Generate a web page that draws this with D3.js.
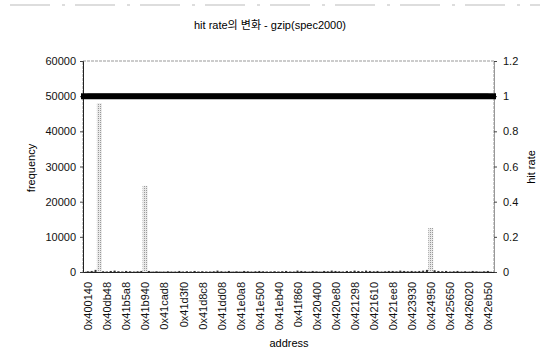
<!DOCTYPE html>
<html>
<head>
<meta charset="utf-8">
<script src="https://cdn.jsdelivr.net/npm/d3@7"></script>
<style>
  body { margin: 0; background: #fff; }
  svg { font-family: "Liberation Sans", Arial, "Noto Sans CJK KR", sans-serif; }
</style>
</head>
<body>
<div id="container"></div>
<script>
/* DATA */
const tickLabels = [
  "0x400140", "0x40db48", "0x41b5a8", "0x41b940", "0x41cad8", "0x41d3f0",
  "0x41d8c8", "0x41dd08", "0x41e0a8", "0x41e500", "0x41eb40", "0x41f860",
  "0x420400", "0x420e80", "0x421298", "0x421610", "0x421ee8", "0x423930",
  "0x424950", "0x425650", "0x426020", "0x42eb50",
];
// 5 samples per labelled interval (sample i sits at i/5 of the way along)
const frequency = [
  200, 300, 600, 48000, 200,  100, 300, 400, 200, 100,
  300, 200, 100, 200, 300,    24500, 300, 100, 200, 100,
  100, 200, 100, 100, 300,    100, 200, 100, 300, 100,
  200, 100, 100, 200, 400,    200, 100, 300, 100, 200,
  100, 300, 200, 100, 200,    300, 200, 100, 100, 200,
  100, 200, 300, 100, 100,    400, 300, 200, 100, 300,
  200, 100, 300, 200, 400,    300, 200, 100, 300, 200,
  400, 300, 200, 400, 300,    200, 300, 100, 200, 300,
  300, 200, 400, 300, 200,    300, 200, 300, 400, 600,
  12500, 500, 300, 200, 300,  100, 200, 300, 100, 200,
  100, 300, 200, 100, 200,    300,
];
const hitRate = [
  1, 1, 1, 1, 1, 1, 1, 1, 1, 1, 1, 1, 1, 1, 1, 1, 1, 1, 1, 1, 1,
  1, 1, 1, 1, 1, 1, 1, 1, 1, 1, 1, 1, 1, 1, 1, 1, 1, 1, 1, 1, 1,
  1, 1, 1, 1, 1, 1, 1, 1, 1, 1, 1, 1, 1, 1, 1, 1, 1, 1, 1, 1, 1,
  1, 1, 1, 1, 1, 1, 1, 1, 1, 1, 1, 1, 1, 1, 1, 1, 1, 1, 1, 1, 1,
  1, 1, 1, 1, 1, 1, 1, 1, 1, 1, 1, 1, 1, 1, 1, 1, 1, 1, 1, 1, 1,
  1,
];
const freqTicks = [0, 10000, 20000, 30000, 40000, 50000, 60000];
const rateTicks = [0, 0.2, 0.4, 0.6, 0.8, 1, 1.2];
const samplesPerTick = 5;

/* CONSTANTS */
const width = 547;
const height = 360;
const plot = { left: 83, right: 494, top: 61, bottom: 272 };

const svg = d3
  .select("#container")
  .append("svg")
  .attr("width", width)
  .attr("height", height);

// dotted grey fill for the bars
const pat = svg
  .append("defs")
  .append("pattern")
  .attr("id", "dots")
  .attr("width", 2)
  .attr("height", 2)
  .attr("patternUnits", "userSpaceOnUse");
pat.append("rect").attr("width", 2).attr("height", 2).attr("fill", "#e8e8e8");
pat.append("rect").attr("width", 1).attr("height", 1).attr("fill", "#999");

/* SCALES */
const xScale = d3
  .scaleLinear()
  .domain([-0.26, tickLabels.length - 1 + 0.32])
  .range([plot.left, plot.right]);
const yFreq = d3.scaleLinear().domain([0, 60000]).range([plot.bottom, plot.top]);
const yRate = d3.scaleLinear().domain([0, 1.2]).range([plot.bottom, plot.top]);
const xPos = (i) => xScale(i / samplesPerTick);

// scan artifact line at the top
svg
  .append("line")
  .attr("x1", 10).attr("x2", 540)
  .attr("y1", 5).attr("y2", 5)
  .attr("stroke", "#bbb")
  .attr("stroke-dasharray", "40,12,3,10");

// TITLE
svg
  .append("text")
  .attr("x", 270)
  .attr("y", 29)
  .attr("text-anchor", "middle")
  .style("font-size", "11px")
  .text("hit rate의 변화 - gzip(spec2000)");

// FRAME
svg
  .append("rect")
  .attr("x", plot.left)
  .attr("y", plot.top)
  .attr("width", plot.right - plot.left)
  .attr("height", plot.bottom - plot.top)
  .attr("fill", "none")
  .attr("stroke", "#999")
  .attr("stroke-dasharray", "3,1");

// BARS
svg
  .selectAll(".bar")
  .data(frequency)
  .join("rect")
  .attr("class", "bar")
  .attr("x", (d, i) => xPos(i) - (d > 10000 ? 2.5 : 1))
  .attr("width", (d) => (d > 10000 ? 5 : 2))
  .attr("y", (d) => yFreq(d))
  .attr("height", (d) => plot.bottom - yFreq(d))
  .attr("fill", (d) => (d > 10000 ? "url(#dots)" : "#333"));

// AXES
const left = svg
  .append("g")
  .attr("transform", `translate(${plot.left},0)`)
  .call(d3.axisLeft(yFreq).tickValues(freqTicks).tickSize(3).tickFormat(d3.format("d")));
const right = svg
  .append("g")
  .attr("transform", `translate(${plot.right},0)`)
  .call(d3.axisRight(yRate).tickValues(rateTicks).tickSize(3).tickFormat((d) => String(+d.toFixed(1))));
const bottom = svg
  .append("g")
  .attr("transform", `translate(0,${plot.bottom})`)
  .call(
    d3.axisBottom(xScale)
      .tickValues(d3.range(tickLabels.length))
      .tickSize(0)
      .tickFormat((d) => tickLabels[d])
  );
bottom.selectAll("text")
  .attr("transform", "rotate(-90)")
  .attr("text-anchor", "end")
  .attr("x", -10)
  .attr("y", 0)
  .attr("dy", "0.35em");
[left, right, bottom].forEach((g) => {
  g.selectAll("text").style("font-size", "11px").attr("fill", "#111");
  g.select(".domain").attr("stroke", "#222");
  g.selectAll(".tick line").attr("stroke", "#444");
});
left.selectAll("text").attr("x", -7);
right.selectAll("text").attr("x", 9);
right.select(".domain").attr("stroke", "#999");

// HIT RATE LINE
svg
  .append("path")
  .datum(hitRate)
  .attr("fill", "none")
  .attr("stroke", "#000")
  .attr("stroke-width", 5)
  .attr("stroke-linecap", "round")
  .attr("d", d3.line().x((d, i) => xPos(i)).y((d) => yRate(d)));
svg
  .append("path")
  .datum([hitRate[0], hitRate[hitRate.length - 1]])
  .attr("fill", "none")
  .attr("stroke", "#000")
  .attr("stroke-width", 6)
  .attr("d", d3.line().x((d, i) => (i === 0 ? plot.left - 2 : plot.right + 2)).y((d) => yRate(d)));

// AXIS LABELS
svg
  .append("text")
  .attr("transform", `translate(35,168) rotate(-90)`)
  .attr("text-anchor", "middle")
  .style("font-size", "11px")
  .text("frequency");
svg
  .append("text")
  .attr("transform", `translate(535,167) rotate(-90)`)
  .attr("text-anchor", "middle")
  .style("font-size", "11px")
  .text("hit rate");
svg
  .append("text")
  .attr("x", 289)
  .attr("y", 347)
  .attr("text-anchor", "middle")
  .style("font-size", "11px")
  .text("address");
</script>
</body>
</html>
